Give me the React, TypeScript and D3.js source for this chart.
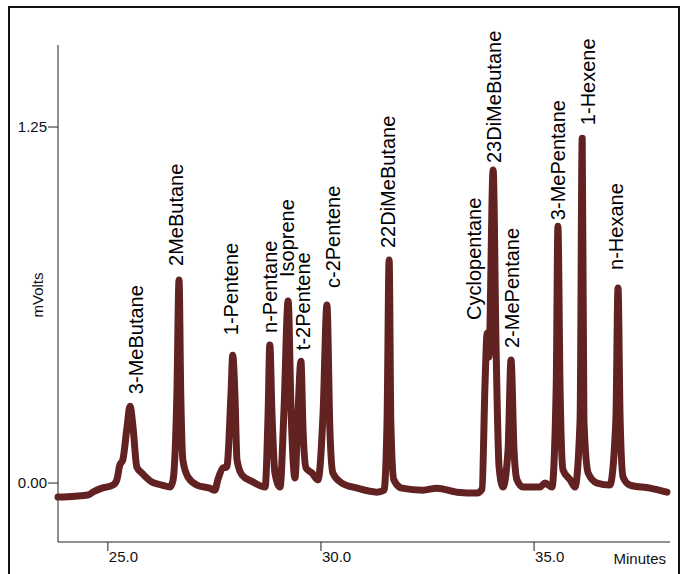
import React from 'react';
import * as d3 from 'd3';

// trace (minutes, mV)
const times = [
  23.83, 24.23, 24.53, 24.69, 24.86, 25.12, 25.21, 25.28, 25.35, 25.45, 25.52, 25.59, 25.68, 25.8,
  26.03, 26.27, 26.46, 26.53, 26.62, 26.67, 26.71, 26.76, 26.88, 27.09, 27.39, 27.51, 27.58, 27.7,
  27.79, 27.89, 27.93, 27.98, 28.03, 28.15, 28.4, 28.69, 28.76, 28.8, 28.85, 28.92, 29.04, 29.13,
  29.23, 29.3, 29.39, 29.46, 29.53, 29.58, 29.65, 29.79, 29.93, 30.05, 30.14, 30.21, 30.28, 30.49,
  30.85, 31.31, 31.48, 31.55, 31.6, 31.64, 31.71, 31.9, 32.39, 32.72, 33.19, 33.66, 33.78, 33.85,
  33.9, 33.94, 34.04, 34.11, 34.18, 34.27, 34.39, 34.46, 34.53, 34.6, 34.74, 35.14, 35.26, 35.42,
  35.52, 35.56, 35.61, 35.68, 35.85, 35.96, 36.08, 36.13, 36.17, 36.27, 36.48, 36.78, 36.92, 36.97,
  37.02, 37.09, 37.25, 37.72, 38.12
];
const mVolts = [
  -0.049, -0.046, -0.042, -0.028, -0.018, -0.007, 0.011, 0.063, 0.081, 0.197, 0.27, 0.197, 0.056, 0.035,
  0.004, -0.007, -0.014, 0.011, 0.316, 0.713, 0.316, 0.081, 0.021, -0.007, -0.018, -0.025, 0.011, 0.053,
  0.056, 0.316, 0.449, 0.316, 0.081, 0.028, 0.004, -0.014, 0.246, 0.485, 0.246, 0.035, -0.014, 0.246,
  0.639, 0.246, 0.018, 0.246, 0.428, 0.186, 0.053, 0.035, 0.011, 0.246, 0.625, 0.186, 0.035, 0,
  -0.018, -0.032, -0.025, 0.211, 0.783, 0.211, 0.011, -0.018, -0.025, -0.018, -0.032, -0.035, -0.021, 0.351,
  0.527, 0.442, 1.099, 0.467, 0.056, -0.014, 0.116, 0.432, 0.116, 0.011, -0.014, -0.014, 0, -0.014,
  0.337, 0.902, 0.337, 0.046, 0.011, -0.014, 0.221, 1.211, 0.221, 0.035, 0, -0.007, 0.221, 0.685,
  0.221, 0.021, -0.007, -0.018, -0.032
];

const peakNames = [
  '3-MeButane', '2MeButane', '1-Pentene', 'n-Pentane', 'Isoprene', 't-2Pentene', 'c-2Pentene',
  '22DiMeButane', 'Cyclopentane', '23DiMeButane', '2-MePentane', '3-MePentane', '1-Hexene', 'n-Hexane'
];
const peakTimes = [25.52, 26.67, 27.93, 28.8, 29.23, 29.53, 30.14, 31.6, 33.9, 34.04, 34.46, 35.56, 36.13, 36.97];
const peakHeights = [0.27, 0.713, 0.449, 0.485, 0.639, 0.428, 0.625, 0.783, 0.527, 1.099, 0.432, 0.902, 1.211, 0.685];

const xTicks = [25, 30, 35];
const yTicks = [0, 1.25];

// label nudges in px from the apex (baseline x, text start y)
const labelNudge = [
  [13, -12], [4, -14], [5, -20], [7, -12], [6, -24], [9, -11], [13, -17],
  [6, -12], [-6, -13], [8, -7], [8, -12], [7, -6], [13, -13], [5, -18]
];

const font = 'Liberation Sans, Arial, Helvetica, sans-serif';
const traceColor = '#632222';
const axisColor = '#222';

const App = () => {
  const width = 686;
  const height = 574;

  const x = d3.scaleLinear().domain([23.83, 38.19]).range([58, 670]);
  const y = d3.scaleLinear().domain([-0.207, 1.538]).range([542, 45]);

  const line = d3.line<number>()
    .x((_, i) => x(times[i]))
    .y(d => y(d))
    .curve(d3.curveMonotoneX);

  const [x0, x1] = x.range();
  const [yBottom, yTop] = y.range();

  return (
    <svg
      width={width}
      height={height}
      style={{ position: 'absolute', left: 0, top: 0, background: '#fff' }}
      fontFamily={font}
    >
      <rect x={9} y={7} width={670} height={600} fill="none" stroke="#111" strokeWidth={2} />

      {/* axes */}
      <line x1={x0} x2={x0} y1={yTop} y2={yBottom} stroke={axisColor} strokeWidth={1} />
      <line x1={x0} x2={x1} y1={yBottom} y2={yBottom} stroke={axisColor} strokeWidth={1} />

      {yTicks.map(t => (
        <g key={t}>
          <line x1={x0 - 10} x2={x0} y1={y(t)} y2={y(t)} stroke={axisColor} />
          <text x={x0 - 11} y={y(t)} dy="0.35em" textAnchor="end" fontSize={15} fill="#111">
            {t.toFixed(2)}
          </text>
        </g>
      ))}
      <text
        transform={`translate(43,${(y(0) + y(1.25)) / 2 - 10}) rotate(-90)`}
        textAnchor="middle"
        fontSize={15}
        fill="#111"
      >
        mVolts
      </text>

      {xTicks.map(t => (
        <g key={t}>
          <line x1={x(t)} x2={x(t)} y1={yBottom} y2={yBottom + 9} stroke={axisColor} />
          <text x={x(t) + 1} y={yBottom + 20} fontSize={15} fill="#111">
            {t.toFixed(1)}
          </text>
        </g>
      ))}
      <text x={x1 - 4} y={yBottom + 22} textAnchor="end" fontSize={15} fill="#111">
        Minutes
      </text>

      {/* trace */}
      <path
        d={line(mVolts) || ''}
        fill="none"
        stroke={traceColor}
        strokeWidth={7}
        strokeLinejoin="round"
        strokeLinecap="round"
      />

      {/* peak labels */}
      {peakNames.map((name, i) => {
        const px = x(peakTimes[i]) + labelNudge[i][0];
        const py = y(peakHeights[i]) + labelNudge[i][1];
        return (
          <text
            key={name}
            transform={`translate(${px},${py}) rotate(-90)`}
            fontSize={20}
            fill="#000"
          >
            {name}
          </text>
        );
      })}
    </svg>
  );
};

export default App;
